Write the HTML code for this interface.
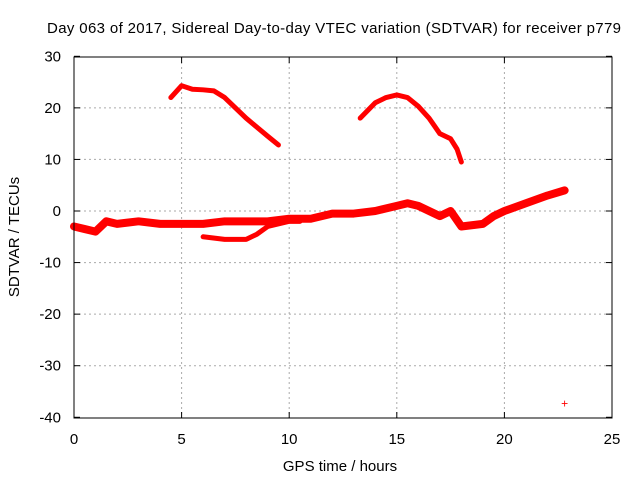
<!DOCTYPE html>
<html><head><meta charset="utf-8"><style>
body{margin:0;background:#fff}
svg{display:block;font-family:"Liberation Sans",sans-serif}
</style></head><body>
<svg id="c" width="640" height="480">
<text x="334" y="33" font-size="15" text-anchor="middle" textLength="574">Day 063 of 2017, Sidereal Day-to-day VTEC variation (SDTVAR) for receiver p779</text>
<text x="340" y="471" font-size="15" text-anchor="middle">GPS time / hours</text>
<text x="19" y="237" font-size="15" text-anchor="middle" transform="rotate(-90 19 237)">SDTVAR / TECUs</text>
<g id="grid"></g><g id="marks"></g>
<rect x="74" y="57" width="538" height="361" fill="none" stroke="#000"/>
</svg>
<script>
const xTicks=[0,5,10,15,20,25];
const yTicks=[30,20,10,0,-10,-20,-30,-40];
const arc1X=[4.5,5,5.5,6,6.5,7,8,9,9.5];
const arc1Y=[22,24.3,23.6,23.5,23.3,22,18,14.5,12.8];
const arc2X=[13.3,14,14.5,15,15.5,16,16.5,17,17.5,17.8,18];
const arc2Y=[18,21,22,22.5,22,20.3,18,15,14,12,9.5];
const bandX=[0,0.5,1,1.5,2,3,4,5,6,7,8,9,10,11,12,13,14,15,15.5,16,16.5,17,17.5,18,19,19.5,20,21,22,22.8];
const bandY=[-3,-3.5,-4,-2,-2.5,-2,-2.5,-2.5,-2.5,-2,-2,-2,-1.5,-1.5,-0.5,-0.5,0,1,1.5,1,0,-1,0,-3,-2.5,-1,0,1.5,3,4];
const lowX=[6,7,8,8.5,9,10,10.5];
const lowY=[-5,-5.5,-5.5,-4.5,-3,-2,-2];
const outX=[22.8];
const outY=[-37.3];
const sx=v=>74+v*21.52, sy=v=>211-v*5.157;
const NS="http://www.w3.org/2000/svg";
const g=document.getElementById('grid'), m=document.getElementById('marks');
function mk(p,t,a){const e=document.createElementNS(NS,t);for(const k in a)e.setAttribute(k,a[k]);p.appendChild(e);return e;}
xTicks.forEach(v=>{
 if(v>0&&v<25){const l=mk(g,'line',{x1:sx(v),x2:sx(v),y1:57,y2:418,stroke:'#aaa','stroke-dasharray':'2,3'});
 
 }
 const t=mk(g,'text',{x:sx(v),y:444,'font-size':15,'text-anchor':'middle'});t.textContent=v;
 
 
 mk(g,'line',{x1:sx(v),x2:sx(v),y1:418,y2:412,stroke:'#000'});mk(g,'line',{x1:sx(v),x2:sx(v),y1:57,y2:63,stroke:'#000'});
});
yTicks.forEach(v=>{
 if(v<30&&v>-40){const l=mk(g,'line',{x1:74,x2:612,y1:sy(v),y2:sy(v),stroke:'#aaa','stroke-dasharray':'2,3'});
 
 }
 const t=mk(g,'text',{x:61,y:sy(v)+5,'font-size':15,'text-anchor':'end'});t.textContent=v;
 
 
 mk(g,'line',{x1:74,x2:80,y1:sy(v),y2:sy(v),stroke:'#000'});mk(g,'line',{x1:612,x2:606,y1:sy(v),y2:sy(v),stroke:'#000'});
});
function series(X,Y,w,name){
 const p=mk(m,'polyline',{points:X.map((x,i)=>sx(x)+','+sy(Y[i])).join(' '),fill:'none',stroke:'#f00','stroke-width':w,'stroke-linejoin':'round','stroke-linecap':'round'});
 
 
}
series(arc1X,arc1Y,5,'series-arc-1');
series(arc2X,arc2Y,5,'series-arc-2');
series(bandX,bandY,8,'series-main-band');
series(lowX,lowY,5,'series-lower-branch');
outX.forEach((x,i)=>{
 const t=mk(m,'text',{x:sx(x),y:sy(outY[i])+4,'font-size':12,'text-anchor':'middle',fill:'#f00'});t.textContent='+';
 
 
});
</script>
</body></html>
